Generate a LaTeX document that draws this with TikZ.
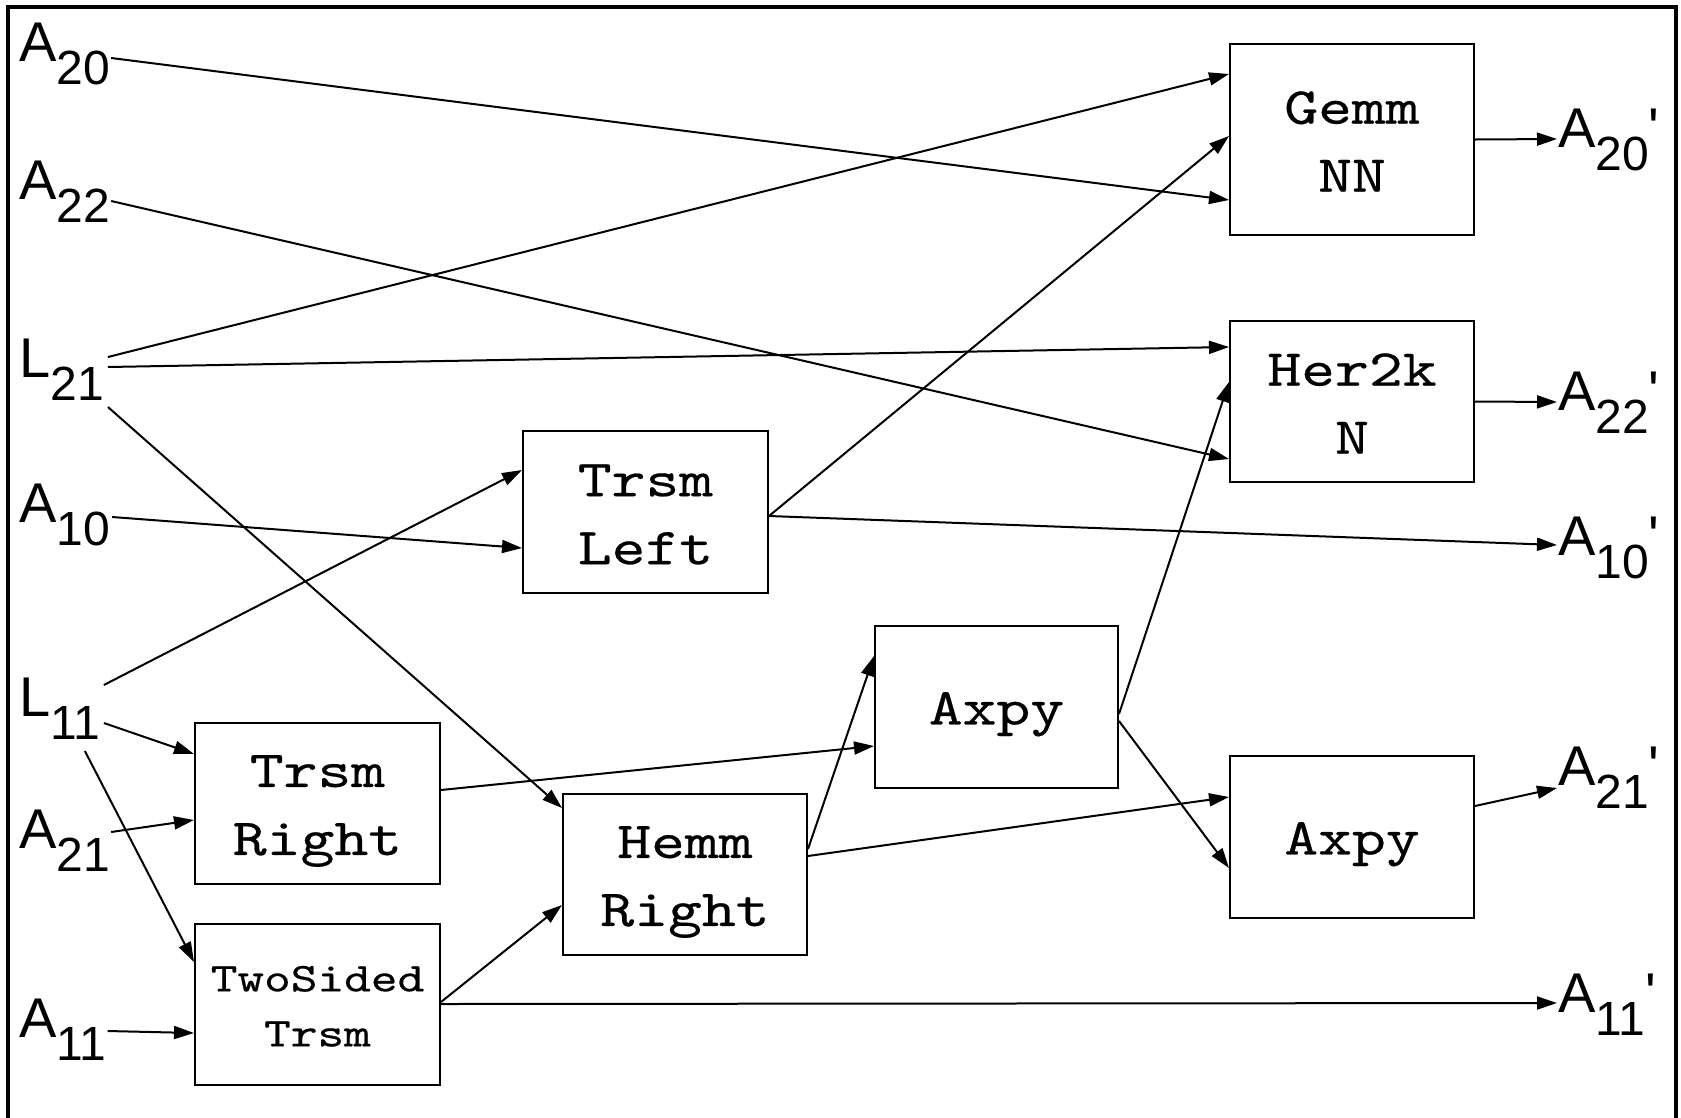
\documentclass[tikz,border=0pt]{standalone}
\usepackage{fontspec}
\setmainfont{Liberation Sans}
\newfontfamily\boxfont{lmmono10-regular.otf}[FakeStretch=1.24,FakeBold=0.4]
\usetikzlibrary{arrows.meta}
\newcommand\mylab[2]{\fontsize{56}{56}\selectfont #1\raisebox{-23pt}{\fontsize{48}{48}\selectfont #2}}
\newcommand\mylabp[2]{\mylab{#1}{#2}\textquotesingle}
\newcommand\bs{\rule[-0.2em]{0pt}{1.1em}}
\begin{document}
\begin{tikzpicture}[x=1pt,y=-1pt,
  lab/.style={inner sep=0pt, anchor=base west},
  op/.style={draw, line width=2pt, inner sep=0pt, minimum width=244pt, minimum height=161pt, align=center, font=\boxfont\fontsize{52}{68}\selectfont},
  conn/.style={line width=2pt, -{Triangle[length=20pt,width=13pt]}}]
\useasboundingbox (0,0) rectangle (1681,1117);
\fill[white] (0,0) rectangle (1681,1117);
\draw[line width=4pt] (7.5,6.5) rectangle (1676,1135);

% input labels
\node[lab] (A20) at (19,61) {\mylab{A}{20}};
\node[lab] (A22) at (19,199) {\mylab{A}{22}};
\node[lab] (L21) at (19,377) {\mylab{L}{21}};
\node[lab] (A10) at (19,522) {\mylab{A}{10}};
\node[lab] (L11) at (19,716) {\mylab{L}{11}};
\node[lab] (A21) at (19,848) {\mylab{A}{21}};
\node[lab] (A11) at (19,1037) {\mylab{A}{11}};

% output labels
\node[lab] (A20p) at (1558,147) {\mylabp{A}{20}};
\node[lab] (A22p) at (1558,410) {\mylabp{A}{22}};
\node[lab] (A10p) at (1558,555) {\mylabp{A}{10}};
\node[lab] (A21p) at (1558,785) {\mylabp{A}{21}};
\node[lab] (A11p) at (1558,1012) {\mylabp{A}{11}};

% operation boxes
\node[op, minimum height=191pt] (gemm) at (1352,139.5) {\bs Gemm\\\bs NN};
\node[op] (her2k) at (1352,401.5) {\bs Her2k\\\bs N};
\node[op, minimum width=245pt, minimum height=162pt] (trsmL) at (645.5,512) {\bs Trsm\\\bs Left};
\node[op, minimum width=243pt, minimum height=162pt] (axpyA) at (996.5,707) {\bs Axpy};
\node[op, minimum width=245pt] (trsmR) at (317.5,803.5) {\bs Trsm\\\bs Right};
\node[op] (hemm) at (685,874.5) {\bs Hemm\\\bs Right};
\node[op, minimum width=245pt, font=\boxfont\fontsize{41}{55}\selectfont] (twos) at (317.5,1004.5) {\bs TwoSided\\\bs Trsm};
\node[op, minimum height=162pt] (axpyB) at (1352,837) {\bs Axpy};

% connectors
\draw[conn] ([xshift=1pt,yshift=3pt]A20.base east) -- ([yshift=-157pt]gemm.north west);
\draw[conn] ([xshift=1pt,yshift=-2pt]A22.base east) -- ([yshift=-139pt]her2k.north west);
\draw[conn] ([xshift=4pt,yshift=20pt]L21.base east) -- ([yshift=-31pt]gemm.north west);
\draw[conn] ([xshift=4pt,yshift=10pt]L21.base east) -- ([yshift=-27pt]her2k.north west);
\draw[conn] ([xshift=4pt,yshift=-30pt]L21.base east) -- ([yshift=-15pt]hemm.north west);
\draw[conn] ([xshift=2pt,yshift=5pt]A10.base east) -- ([yshift=-118pt]trsmL.north west);
\draw[conn] ([xshift=3.5pt,yshift=31pt]L11.base east) -- ([yshift=-40pt]trsmL.north west);
\draw[conn] ([xshift=3.5pt,yshift=-7pt]L11.base east) -- ([yshift=-32pt]trsmR.north west);
\draw[conn] ([xshift=-15.5pt,yshift=-35pt]L11.base east) -- ([yshift=-39pt]twos.north west);
\draw[conn] ([xshift=1pt,yshift=16pt]A21.base east) -- ([yshift=-98pt]trsmR.north west);
\draw[conn] ([xshift=1pt,yshift=6pt]A11.base east) -- ([yshift=-110pt]twos.north west);

\draw[conn] ([yshift=-86pt]trsmL.north east) -- ([yshift=-93pt]gemm.north west);
\draw[conn] ([yshift=-86pt]trsmL.north east) -- ([xshift=-1pt,yshift=10pt]A10p.base west);
\draw[conn] ([yshift=-68pt]trsmR.north east) -- ([yshift=-121pt]axpyA.north west);
\draw[conn] ([yshift=-79pt]twos.north east) -- ([yshift=-112pt]hemm.north west);
\draw[conn] ([yshift=-81pt]twos.north east) -- ([xshift=-1pt,yshift=9pt]A11p.base west);
\draw[conn] ([yshift=-56pt]hemm.north east) -- ([yshift=-31pt]axpyA.north west);
\draw[conn] ([yshift=-63pt]hemm.north east) -- ([yshift=-42pt]axpyB.north west);
\draw[conn] ([yshift=-89pt]axpyA.north east) -- ([yshift=-62pt]her2k.north west);
\draw[conn] ([yshift=-96pt]axpyA.north east) -- ([yshift=-113pt]axpyB.north west);
\draw[conn] (gemm.east) -- ([xshift=-1pt,yshift=8pt]A20p.base west);
\draw[conn] (her2k.east) -- ([xshift=-1pt,yshift=8pt]A22p.base west);
\draw[conn] ([yshift=-51pt]axpyB.north east) -- ([xshift=-1pt,yshift=-3pt]A21p.base west);
\end{tikzpicture}
\end{document}
